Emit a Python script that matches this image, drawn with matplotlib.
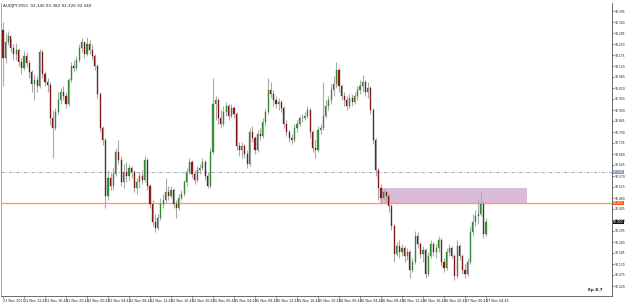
"""
AUDJPY M15 - свечной график с уровнем и зоной
"""
import numpy as np
import matplotlib
matplotlib.use('Agg')
import matplotlib.pyplot as plt
from matplotlib.patches import Rectangle

# данные свечей (цены закрытия / максимумы / минимумы), открытие = предыдущее закрытие
first_open = 93.30
closes = [
    93.16, 93.24, 93.27, 93.21, 93.18, 93.20, 93.14, 93.11, 93.17, 93.135,
    93.09, 93.03, 93.05, 93.02, 93.19, 93.08, 93.04, 93.025, 92.86, 92.81,
    92.89, 92.95, 92.99, 92.97, 92.93, 93.05, 93.12, 93.11, 93.15, 93.21,
    93.24, 93.18, 93.23, 93.20, 93.17, 93.12, 92.98, 92.81, 92.75, 92.47,
    92.56, 92.52, 92.58, 92.69, 92.65, 92.54, 92.59, 92.57, 92.61, 92.59,
    92.51, 92.54, 92.57, 92.55, 92.65, 92.52, 92.43, 92.34, 92.31, 92.36,
    92.43, 92.45, 92.49, 92.47, 92.50, 92.43, 92.41, 92.46, 92.48, 92.54,
    92.59, 92.64, 92.58, 92.55, 92.60, 92.61, 92.64, 92.57, 92.52, 92.69,
    92.93, 92.95, 92.86, 92.83, 92.89, 92.92, 92.87, 92.91, 92.88, 92.72,
    92.70, 92.72, 92.68, 92.63, 92.79, 92.76, 92.70, 92.78, 92.77, 92.84,
    92.89, 93.00, 92.98, 92.95, 92.93, 92.94, 92.91, 92.83, 92.79, 92.76,
    92.75, 92.81, 92.83, 92.86, 92.86, 92.87, 92.90, 92.79, 92.71, 92.70,
    92.80, 92.81, 92.87, 92.92, 92.95, 93.00, 93.03, 93.10, 93.02, 92.97,
    92.95, 92.92, 92.96, 92.94, 92.97, 93.00, 93.02, 93.04, 92.99, 93.01,
    92.90, 92.75, 92.60, 92.51, 92.46, 92.49, 92.47, 92.42, 92.32, 92.18,
    92.22, 92.19, 92.21, 92.17, 92.19, 92.10, 92.14, 92.27, 92.23, 92.18,
    92.20, 92.08, 92.17, 92.23, 92.19, 92.21, 92.25, 92.14, 92.11, 92.19,
    92.21, 92.17, 92.07, 92.22, 92.17, 92.10, 92.08, 92.14, 92.29, 92.34,
    92.37, 92.38, 92.43, 92.28, 92.34,
]
highs = [
    93.34, 93.285, 93.295, 93.26, 93.23, 93.235, 93.21, 93.16, 93.195, 93.19,
    93.15, 93.10, 93.08, 93.07, 93.205, 93.20, 93.095, 93.06, 93.04, 92.90,
    92.91, 92.99, 93.01, 93.02, 92.99, 93.06, 93.14, 93.15, 93.17, 93.23,
    93.26, 93.24, 93.265, 93.25, 93.23, 93.18, 93.13, 92.99, 92.82, 92.76,
    92.60, 92.59, 92.61, 92.71, 92.75, 92.67, 92.63, 92.64, 92.63, 92.62,
    92.60, 92.56, 92.59, 92.60, 92.67, 92.66, 92.53, 92.45, 92.38, 92.38,
    92.46, 92.48, 92.56, 92.52, 92.52, 92.51, 92.45, 92.48, 92.50, 92.55,
    92.61, 92.66, 92.65, 92.60, 92.62, 92.63, 92.66, 92.65, 92.59, 92.71,
    93.06, 92.97, 92.96, 92.90, 92.92, 92.94, 92.93, 92.93, 92.92, 92.89,
    92.74, 92.74, 92.73, 92.70, 92.81, 92.82, 92.77, 92.80, 92.81, 92.86,
    92.91, 93.06, 93.04, 93.00, 92.97, 92.96, 92.95, 92.92, 92.85, 92.80,
    92.78, 92.83, 92.85, 92.87, 92.88, 92.89, 92.92, 92.91, 92.80, 92.75,
    92.82, 92.83, 93.04, 92.95, 92.97, 93.03, 93.07, 93.14, 93.11, 93.03,
    92.99, 92.97, 92.98, 92.98, 92.99, 93.02, 93.05, 93.075, 93.05, 93.04,
    93.02, 92.91, 92.76, 92.61, 92.53, 92.51, 92.50, 92.48, 92.43, 92.33,
    92.24, 92.25, 92.23, 92.22, 92.21, 92.20, 92.16, 92.295, 92.29, 92.24,
    92.22, 92.21, 92.19, 92.25, 92.24, 92.23, 92.27, 92.26, 92.16, 92.21,
    92.23, 92.22, 92.18, 92.25, 92.23, 92.18, 92.13, 92.16, 92.32, 92.38,
    92.40, 92.455, 92.495, 92.44, 92.36,
]
lows = [
    93.02, 93.135, 93.225, 93.19, 93.15, 93.15, 93.12, 93.08, 93.10, 93.115,
    93.06, 92.99, 92.95, 92.99, 93.01, 93.06, 93.02, 92.99, 92.825, 92.66,
    92.80, 92.88, 92.93, 92.95, 92.91, 92.92, 93.04, 93.09, 93.10, 93.14,
    93.19, 93.16, 93.17, 93.18, 93.15, 93.10, 92.96, 92.79, 92.725, 92.41,
    92.45, 92.50, 92.50, 92.57, 92.63, 92.52, 92.51, 92.54, 92.55, 92.56,
    92.49, 92.48, 92.51, 92.53, 92.54, 92.50, 92.41, 92.32, 92.29, 92.30,
    92.35, 92.41, 92.44, 92.45, 92.46, 92.41, 92.36, 92.40, 92.45, 92.47,
    92.52, 92.58, 92.56, 92.53, 92.54, 92.58, 92.60, 92.55, 92.51, 92.51,
    92.68, 92.85, 92.83, 92.81, 92.82, 92.87, 92.85, 92.86, 92.86, 92.70,
    92.67, 92.66, 92.66, 92.61, 92.62, 92.74, 92.68, 92.69, 92.75, 92.76,
    92.82, 92.88, 92.96, 92.92, 92.91, 92.90, 92.89, 92.81, 92.77, 92.74,
    92.73, 92.74, 92.79, 92.82, 92.84, 92.85, 92.86, 92.76, 92.69, 92.66,
    92.69, 92.78, 92.80, 92.86, 92.90, 92.93, 92.97, 93.01, 92.99, 92.95,
    92.92, 92.90, 92.91, 92.92, 92.93, 92.95, 92.98, 92.99, 92.97, 92.96,
    92.88, 92.73, 92.57, 92.45, 92.44, 92.45, 92.44, 92.39, 92.30, 92.14,
    92.17, 92.16, 92.17, 92.14, 92.15, 92.06, 92.09, 92.13, 92.21, 92.16,
    92.14, 92.06, 92.07, 92.16, 92.17, 92.16, 92.19, 92.12, 92.09, 92.10,
    92.17, 92.16, 92.05, 92.06, 92.15, 92.08, 92.06, 92.07, 92.13, 92.27,
    92.32, 92.33, 92.37, 92.26, 92.27,
]

date_labels = [
    '21 Nov 2013', '21 Nov 12:45', '21 Nov 16:45', '21 Nov 20:45',
    '22 Nov 00:45', '22 Nov 04:45', '22 Nov 08:45', '22 Nov 12:45',
    '22 Nov 16:45', '22 Nov 20:45', '25 Nov 00:45', '25 Nov 04:45',
    '25 Nov 08:45', '25 Nov 12:45', '25 Nov 16:45', '25 Nov 20:45',
    '26 Nov 00:45', '26 Nov 04:45', '26 Nov 08:45', '26 Nov 12:45',
    '26 Nov 16:45', '26 Nov 20:45', '27 Nov 00:45', '27 Nov 04:45',
]
bars_per_label = 8

level_price = 92.435      # оранжевый уровень
dash_price = 92.59        # штрих-пунктир
zone_top, zone_bottom = 92.51, 92.43
zone_start, zone_end = 143.5, 199.5
price_ticks = [round(93.395 - 0.055 * k, 3) for k in range(26)]

header = 'AUDJPY,M15  92.340 92.382 92.326 92.340'

# ---------------------------------------------------------------
closes = np.array(closes)
highs = np.array(highs)
lows = np.array(lows)
opens = np.concatenate([[first_open], closes[:-1]])
idx = np.arange(len(closes))
bull = closes >= opens

W, H = 625, 303
fig = plt.figure(figsize=(W / 100, H / 100), dpi=100)
ax = fig.add_axes([1 / W, 7 / H, 611 / W, 293 / H])

ax.add_patch(Rectangle((zone_start, zone_bottom), zone_end - zone_start,
                       zone_top - zone_bottom, facecolor='#d9bcd9',
                       edgecolor='none', zorder=1))
ax.axhline(level_price, color='#ff9a66', lw=1.0, zorder=2)
ax.axhline(dash_price, color='#8a9ab0', lw=0.6, ls=(0, (4, 2, 1, 2)), zorder=2)

ax.vlines(idx, lows, highs, color='#aaaaaa', lw=0.8, zorder=3)
ax.bar(idx[bull], closes[bull] - opens[bull], bottom=opens[bull], width=0.45,
       color='#3a9a3a', edgecolor='#1f5f1f', lw=0.2, zorder=4)
ax.bar(idx[~bull], closes[~bull] - opens[~bull], bottom=opens[~bull], width=0.45,
       color='#a01c1c', edgecolor='#3a0a0a', lw=0.2, zorder=4)

ax.set_xlim(-0.76, 232.0)
ax.set_ylim(91.97, 93.435)

ax.yaxis.tick_right()
ax.set_yticks(price_ticks)
ax.set_yticklabels([f'{p:.3f}' for p in price_ticks], fontsize=2.2)
ax.set_xticks(np.arange(len(date_labels)) * bars_per_label)
ax.set_xticklabels(date_labels, fontsize=2.4, ha='left')
ax.tick_params(axis='y', length=1.2, width=0.4, pad=0.6, colors='#222222')
ax.tick_params(axis='x', length=1.5, width=0.4, pad=0.6, colors='#222222')

ax.spines['top'].set_visible(False)
ax.spines['left'].set_color('#999999')
ax.spines['right'].set_color('#555555')
ax.spines['bottom'].set_color('#555555')
for s in ['left', 'right', 'bottom']:
    ax.spines[s].set_linewidth(0.6)

# ценовые метки справа
ytr = ax.get_yaxis_transform()
def price_tag(price, bg, fg='white'):
    ax.text(1.0015, price, f'{price:.3f}', transform=ytr, fontsize=2.2,
            color=fg, va='center', ha='left', clip_on=False, zorder=6,
            bbox=dict(boxstyle='square,pad=0.1', fc=bg, ec='none'))

price_tag(dash_price, '#8a9ab0')
price_tag(level_price, '#ff5a1a')
price_tag(closes[-1], '#111111')

ax.text(0.004, 0.997, header, transform=ax.transAxes, fontsize=3.0,
        va='top', ha='left', color='#222222')
ax.text(0.985, 0.012, 'Ep 8.7', transform=ax.transAxes, fontsize=3.0,
        va='bottom', ha='right', color='#222222', fontweight='bold')

fig.savefig('out.png', dpi=100, facecolor='white')
plt.close(fig)
